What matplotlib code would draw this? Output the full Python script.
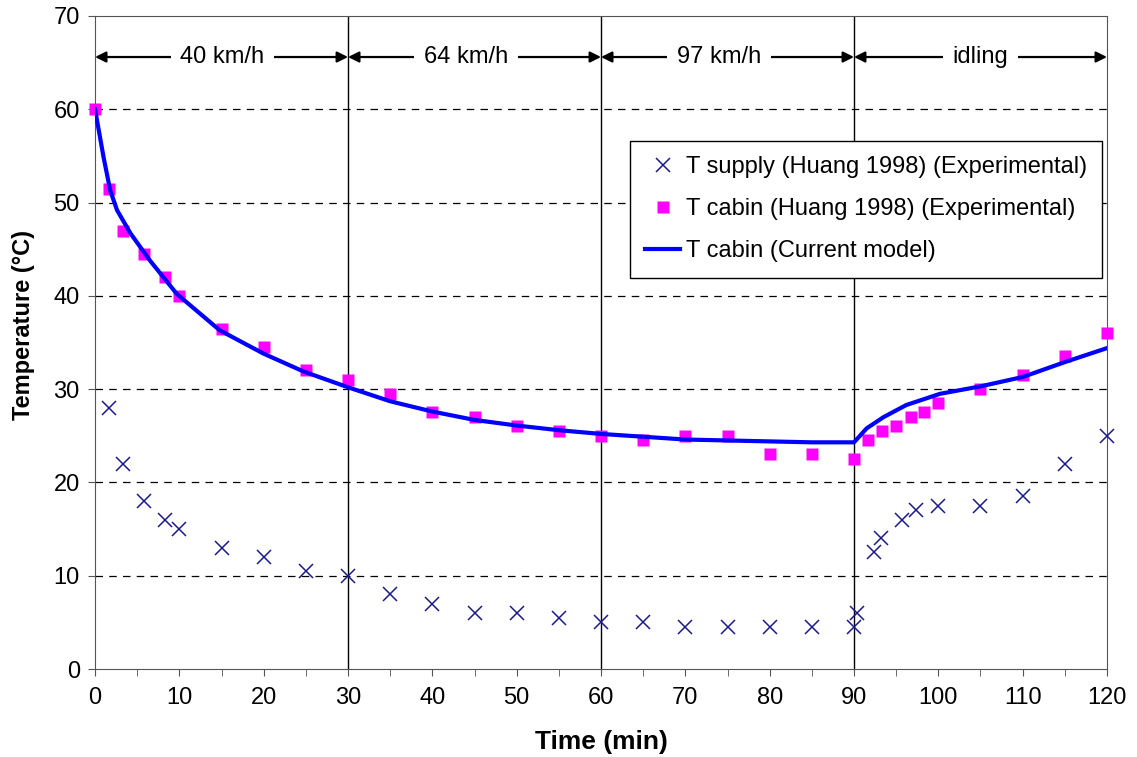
import matplotlib
matplotlib.use("Agg")
import matplotlib.pyplot as plt
from matplotlib.ticker import MultipleLocator

plt.rcParams['font.family'] = ['Liberation Sans', 'DejaVu Sans']

# measured supply air temperature
supply_t = [1.7, 3.3, 5.8, 8.3, 10, 15, 20, 25, 30, 35, 40, 45, 50, 55, 60,
            65, 70, 75, 80, 85, 90, 90.4, 92.4, 93.2, 95.7, 97.4, 100, 105,
            110, 115, 120]
supply_T = [28, 22, 18, 16, 15, 13, 12, 10.5, 10, 8, 7, 6, 6, 5.5, 5,
            5, 4.5, 4.5, 4.5, 4.5, 4.5, 6, 12.5, 14, 16, 17, 17.5, 17.5,
            18.5, 22, 25]

# measured cabin temperature
cabin_t = [0, 1.7, 3.3, 5.8, 8.3, 10, 15, 20, 25, 30, 35, 40, 45, 50, 55, 60,
           65, 70, 75, 80, 85, 90, 91.7, 93.3, 95, 96.7, 98.3, 100, 105,
           110, 115, 120]
cabin_T = [60, 51.5, 47, 44.5, 42, 40, 36.5, 34.5, 32, 31, 29.5, 27.5, 27,
           26, 25.5, 25, 24.5, 25, 25, 23, 23, 22.5, 24.5, 25.5, 26, 27,
           27.5, 28.5, 30, 31.5, 33.5, 36]

# model prediction
model_t = [0, 1, 1.8, 2.6, 4.2, 6.5, 9.7, 14.8, 20, 24.7, 30, 35, 40, 45,
           50, 55, 60, 65, 70, 75, 80, 85, 90, 91.5, 93.5, 96.2, 100.2,
           105, 110, 115, 120]
model_T = [60, 54.9, 51.3, 49.2, 46.7, 43.8, 40.2, 36.3, 33.8, 31.9, 30.2,
           28.7, 27.6, 26.7, 26.1, 25.6, 25.2, 24.9, 24.6, 24.5, 24.4, 24.3,
           24.3, 25.8, 27.0, 28.3, 29.5, 30.3, 31.3, 32.9, 34.4]

phase_edges = [0, 30, 60, 90, 120]
phase_names = ['40 km/h', '64 km/h', '97 km/h', 'idling']
phase_label_x = [15.1, 44, 74, 105]

fig = plt.figure(figsize=(11.37, 7.57), dpi=100)
ax = fig.add_axes([0.0836, 0.1162, 0.89, 0.8627])

for y in range(10, 70, 10):
    ax.axhline(y, color='black', lw=0.9, ls=(0, (6, 5)), zorder=1)
for x in phase_edges[1:-1]:
    ax.axvline(x, color='black', lw=1.0, zorder=1)

ax.plot(supply_t, supply_T, ls='none', marker='x', ms=10, mew=1.1,
        color='#1a1a8c', label='T supply (Huang 1998) (Experimental)',
        zorder=3, clip_on=False)
ax.plot(cabin_t, cabin_T, ls='none', marker='s', ms=9, mec='none',
        color='#ff00ff', label='T cabin (Huang 1998) (Experimental)',
        zorder=3, clip_on=False)
ax.plot(model_t, model_T, color='#0000ff', lw=3, label='T cabin (Current model)',
        zorder=4)

# speed phase arrows
for i, name in enumerate(phase_names):
    ax.annotate('', xy=(phase_edges[i], 65.6), xytext=(phase_edges[i + 1], 65.6),
                arrowprops=dict(arrowstyle='<|-|>', color='black', lw=1.6,
                                mutation_scale=16, shrinkA=0, shrinkB=0),
                zorder=5)
    ax.text(phase_label_x[i], 65.6, name, ha='center', va='center', fontsize=17,
            bbox=dict(facecolor='white', edgecolor='none', pad=7), zorder=6)

ax.set_xlim(0, 120)
ax.set_ylim(0, 70)
ax.xaxis.set_major_locator(MultipleLocator(10))
ax.xaxis.set_minor_locator(MultipleLocator(5))
ax.yaxis.set_major_locator(MultipleLocator(10))
ax.tick_params(which='both', direction='out', labelsize=17, length=5,
               color='#555555')
ax.tick_params(axis='x', pad=8)
ax.tick_params(axis='y', pad=6)
for s in ax.spines.values():
    s.set_color('#555555')

ax.set_xlabel('Time (min)', fontsize=19, fontweight='bold', labelpad=15)
ax.set_ylabel('Temperature (°C)', fontsize=17, fontweight='bold')
ax.yaxis.set_label_coords(-0.0593, 0.527)

leg = ax.legend(loc='upper left', bbox_to_anchor=(0.5287, 0.8086), fontsize=17,
                frameon=True, fancybox=False, edgecolor='black', framealpha=1,
                handlelength=1.45, handletextpad=0.25, borderpad=0.65,
                labelspacing=0.85, borderaxespad=0)
leg.get_frame().set_linewidth(1.0)

fig.savefig('out.png', dpi=100)
